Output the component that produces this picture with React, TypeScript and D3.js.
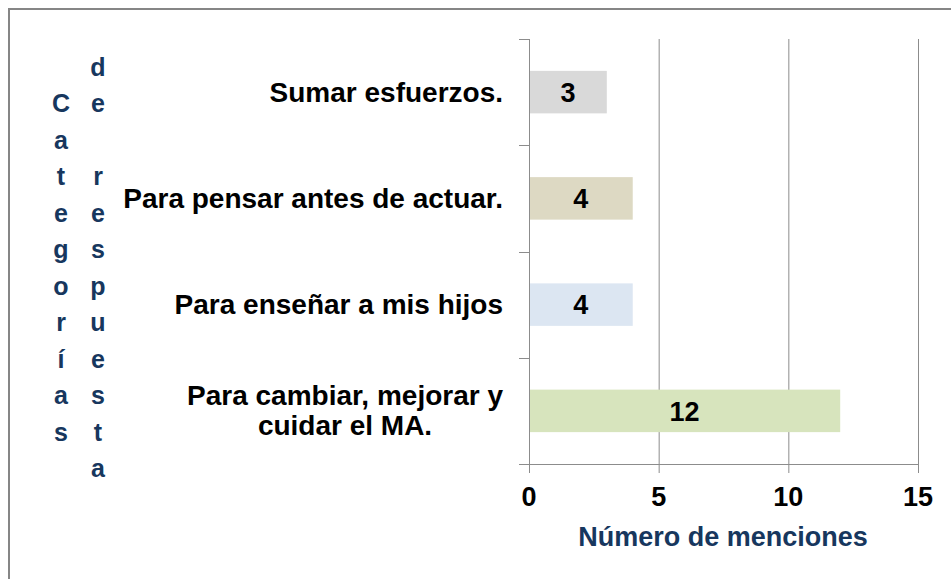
import React, { useEffect, useRef } from 'react';
import * as d3 from 'd3';

const categories = [
  'Sumar esfuerzos.',
  'Para pensar antes de actuar.',
  'Para enseñar a mis hijos',
  'Para cambiar, mejorar y\ncuidar el MA.',
];
const values = [3, 4, 4, 12];
const barColors = ['#d9d9d9', '#ddd9c3', '#dce6f2', '#d7e4bd'];
const xTicks = [0, 5, 10, 15];
const yTitleLines = ['Categorías', 'de respuesta'];
const xTitle = 'Número de menciones';

const W = 951;
const H = 579;
const font = '"Liberation Sans", Arial, sans-serif';
const navy = '#17375e';
const grid = '#8c8c8c';

export default function App() {
  const ref = useRef<SVGSVGElement>(null);

  useEffect(() => {
    const svg = d3.select(ref.current);
    svg.selectAll('*').remove();

    const data = categories.map((c, i) => ({ cat: c, value: values[i], color: barColors[i] }));

    const x = d3.scaleLinear().domain([0, 15]).range([529, 918]);
    const yOuter = d3.scaleBand().domain(categories).range([39, 464]);
    const y = d3.scaleBand().domain(categories).range([39, 464]).paddingInner(0.6).paddingOuter(0.3);

    // frame
    svg
      .append('rect')
      .attr('x', 9)
      .attr('y', 9)
      .attr('width', 1200)
      .attr('height', 1200)
      .attr('fill', 'none')
      .attr('stroke', '#868686')
      .attr('stroke-width', 2);

    // vertical grid lines
    svg
      .selectAll('.grid')
      .data(xTicks.slice(1))
      .enter()
      .append('line')
      .attr('x1', (d) => x(d) + 0.5)
      .attr('x2', (d) => x(d) + 0.5)
      .attr('y1', 39)
      .attr('y2', 464)
      .attr('stroke', grid)
      .attr('stroke-width', 1);

    // bars
    svg
      .selectAll('.bar')
      .data(data)
      .enter()
      .append('rect')
      .attr('x', x(0))
      .attr('y', (d) => y(d.cat)!)
      .attr('width', (d) => x(d.value) - x(0))
      .attr('height', y.bandwidth())
      .attr('fill', (d) => d.color);

    // axes
    svg
      .append('line')
      .attr('x1', x(0) + 0.5)
      .attr('x2', x(0) + 0.5)
      .attr('y1', 39)
      .attr('y2', 464)
      .attr('stroke', grid);
    svg
      .append('line')
      .attr('x1', x(0) - 10)
      .attr('x2', x(15) + 1)
      .attr('y1', 464.5)
      .attr('y2', 464.5)
      .attr('stroke', grid);

    const bounds = categories.map((c) => yOuter(c)!).concat([464]);
    svg
      .selectAll('.ytick')
      .data(bounds)
      .enter()
      .append('line')
      .attr('x1', x(0) - 10)
      .attr('x2', x(0))
      .attr('y1', (d) => Math.round(d) + 0.5)
      .attr('y2', (d) => Math.round(d) + 0.5)
      .attr('stroke', grid);

    svg
      .selectAll('.xtick')
      .data(xTicks)
      .enter()
      .append('line')
      .attr('x1', (d) => x(d) + 0.5)
      .attr('x2', (d) => x(d) + 0.5)
      .attr('y1', 464)
      .attr('y2', 473)
      .attr('stroke', grid);

    svg
      .selectAll('.xlabel')
      .data(xTicks)
      .enter()
      .append('text')
      .attr('x', (d) => x(d))
      .attr('y', 506)
      .attr('text-anchor', 'middle')
      .attr('font-family', font)
      .attr('font-weight', 'bold')
      .attr('font-size', 27)
      .attr('fill', '#000')
      .text((d) => d);

    // value labels
    svg
      .selectAll('.val')
      .data(data)
      .enter()
      .append('text')
      .attr('x', (d) => x(d.value / 2))
      .attr('y', (d) => y(d.cat)! + y.bandwidth() / 2)
      .attr('dy', '0.36em')
      .attr('text-anchor', 'middle')
      .attr('font-family', font)
      .attr('font-weight', 'bold')
      .attr('font-size', 27)
      .attr('fill', '#000')
      .text((d) => d.value);

    // category labels, multi-line ones centered on their widest line
    data.forEach((d) => {
      const lines = d.cat.split('\n');
      const cy = y(d.cat)! + y.bandwidth() / 2;
      const g = svg.append('g');
      const texts = lines.map((line, i) =>
        g
          .append('text')
          .attr('y', cy + (i - (lines.length - 1) / 2) * 30)
          .attr('dy', '0.34em')
          .attr('font-family', font)
          .attr('font-weight', 'bold')
          .attr('font-size', 28)
          .attr('fill', '#000')
          .text(line)
      );
      const widths = texts.map((t) => (t.node() as SVGTextElement).getComputedTextLength());
      const maxW = d3.max(widths) || 0;
      texts.forEach((t) => t.attr('text-anchor', 'middle').attr('x', 503 - maxW / 2));
    });

    // stacked vertical axis title
    const colX = [61, 98];
    yTitleLines.forEach((line, c) => {
      const chars = Array.from(line);
      svg
        .selectAll('.yt' + c)
        .data(chars)
        .enter()
        .append('text')
        .attr('x', colX[c])
        .attr('y', (_, i) => 276.5 + (i - (chars.length - 1) / 2) * 36.5)
        .attr('text-anchor', 'middle')
        .attr('font-family', font)
        .attr('font-weight', 'bold')
        .attr('font-size', 25)
        .attr('fill', navy)
        .text((ch) => ch);
    });

    svg
      .append('text')
      .attr('x', 723)
      .attr('y', 546)
      .attr('text-anchor', 'middle')
      .attr('font-family', font)
      .attr('font-weight', 'bold')
      .attr('font-size', 27)
      .attr('fill', navy)
      .text(xTitle);
  }, []);

  return (
    <svg
      ref={ref}
      width={W}
      height={H}
      style={{ position: 'absolute', left: 0, top: 0, background: '#fff' }}
    />
  );
}
